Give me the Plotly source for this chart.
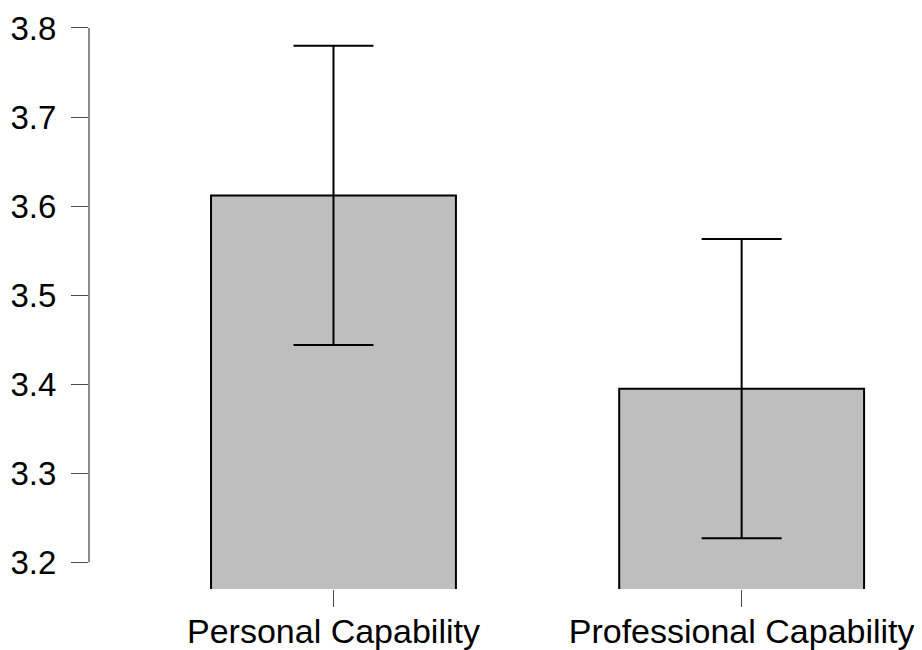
import plotly.graph_objects as go

categories = ["Personal Capability", "Professional Capability"]
means = [3.612, 3.395]
errors = [0.168, 0.168]
y_ticks = [3.2, 3.3, 3.4, 3.5, 3.6, 3.7, 3.8]
y_tick_labels = ["3.2", "3.3", "3.4", "3.5", "3.6", "3.7", "3.8"]

x_pos = list(range(len(categories)))
FONT = "Liberation Sans, Arial, sans-serif"
AXIS_COLOR = "#4d4d4d"

fig = go.Figure()
fig.add_trace(go.Bar(
    x=x_pos,
    y=means,
    width=0.6,
    marker=dict(color="#bebebe", line=dict(color="black", width=2)),
    error_y=dict(type="data", array=errors, symmetric=True,
                 color="black", thickness=2, width=40),
    showlegend=False,
))

fig.add_shape(type="line", xref="paper", yref="y",
              x0=0, x1=0, y0=min(y_ticks), y1=max(y_ticks),
              line=dict(color=AXIS_COLOR, width=1.3))

fig.update_layout(
    width=914, height=642,
    margin=dict(l=81, r=22, t=2, b=61),
    paper_bgcolor="white", plot_bgcolor="white",
    font=dict(family=FONT, color="black"),
    xaxis=dict(
        range=[-0.599, 1.388],
        tickmode="array", tickvals=x_pos, ticktext=categories,
        ticks="outside", ticklen=17, tickcolor=AXIS_COLOR, tickwidth=1.3,
        showline=False, showgrid=False, zeroline=False,
        tickfont=dict(size=34, family=FONT, color="black"),
        ticklabelstandoff=-5, automargin=False,
    ),
    yaxis=dict(
        range=[3.17, 3.8202],
        tickmode="array", tickvals=y_ticks, ticktext=y_tick_labels,
        ticks="outside", ticklen=17, tickcolor=AXIS_COLOR, tickwidth=1.3,
        showline=False, showgrid=False, zeroline=False,
        tickfont=dict(size=33, family=FONT, color="black"),
        ticklabelstandoff=8, automargin=False,
    ),
)

fig.write_html("out.html")
